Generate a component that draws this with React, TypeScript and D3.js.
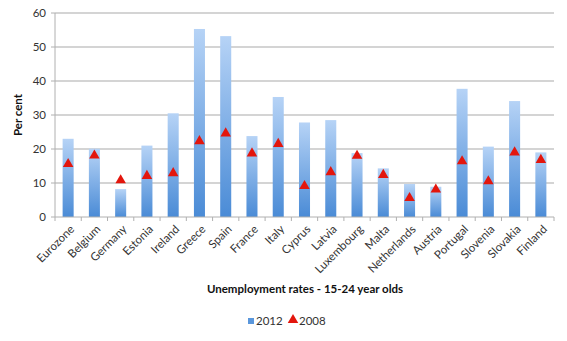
import React from "react";
import * as d3 from "d3";

const categories = ["Eurozone","Belgium","Germany","Estonia","Ireland","Greece","Spain","France","Italy","Cyprus","Latvia","Luxembourg","Malta","Netherlands","Austria","Portugal","Slovenia","Slovakia","Finland"];
const values2012 = [23.0,20.1,8.2,21.0,30.5,55.3,53.2,23.8,35.3,27.8,28.5,18.8,14.3,9.7,8.9,37.7,20.7,34.1,19.0];
const values2008 = [15.6,18.1,10.8,12.1,12.9,22.3,24.6,18.7,21.5,9.1,13.2,18.0,12.4,5.6,8.1,16.4,10.5,19.0,16.8];
const yTicks = [0,10,20,30,40,50,60];

const W = 567, H = 341;
const left = 55, right = 554, top = 13, bottom = 217;
const font = "Lato, 'Open Sans', sans-serif";

export default function App() {
  const x = d3.scaleBand<string>().domain(categories).range([left, right]).paddingInner(0.58).paddingOuter(0.29);
  const xb = d3.scaleBand<string>().domain(categories).range([left, right]).padding(0);
  const y = d3.scaleLinear().domain([0, 60]).range([bottom, top]);
  const tri = d3.symbol().type(d3.symbolTriangle).size(48)();
  return (
    <svg width={W} height={H} style={{ position: "absolute", left: 0, top: 0, background: "#fff" }}>
      <defs>
        <linearGradient id="barGrad" x1="0" y1="0" x2="0" y2="1">
          <stop offset="0" stopColor="#b6d3f6" />
          <stop offset="1" stopColor="#4a8bd6" />
        </linearGradient>
      </defs>
      {yTicks.map(t => (
        <g key={t}>
          {t > 0 && <line x1={left} x2={right} y1={y(t)} y2={y(t)} stroke="#c6c6c6" strokeWidth={1.3} />}
          <line x1={left - 4} x2={left} y1={y(t)} y2={y(t)} stroke="#b0b0b0" strokeWidth={1} />
          <text x={left - 9} y={y(t)} dy="0.35em" textAnchor="end" fontFamily={font} fontSize={11.5} fill="#333">{t}</text>
        </g>
      ))}
      <line x1={left} x2={left} y1={top} y2={bottom} stroke="#b0b0b0" strokeWidth={1} />
      {categories.map((c, i) => (
        <rect key={c} x={x(c)} y={y(values2012[i])} width={x.bandwidth()} height={bottom - y(values2012[i])} fill="url(#barGrad)" />
      ))}
      <line x1={left} x2={right} y1={bottom} y2={bottom} stroke="#b0b0b0" strokeWidth={1} />
      {categories.map((c, i) => (
        <line key={"t" + c} x1={(xb(c) as number)} x2={(xb(c) as number)} y1={bottom} y2={bottom + 4} stroke="#b0b0b0" strokeWidth={1} />
      ))}
      <line x1={right} x2={right} y1={bottom} y2={bottom + 4} stroke="#b0b0b0" strokeWidth={1} />
      {categories.map((c, i) => (
        <path key={"m" + c} d={tri as string} transform={`translate(${(x(c) as number) + x.bandwidth() / 2},${y(values2008[i])})`} fill="#e3160d" />
      ))}
      {categories.map((c) => {
        const cx = (x(c) as number) + x.bandwidth() / 2 + 4;
        return (
          <text key={"l" + c} transform={`translate(${cx},${bottom + 10}) rotate(-45)`} textAnchor="end" dy="0.35em" fontFamily={font} fontSize={11.5} fill="#333">{c}</text>
        );
      })}
      <text transform={`translate(22,${(top + bottom) / 2}) rotate(-90)`} textAnchor="middle" fontFamily={font} fontWeight="bold" fontSize={11.5} fill="#111">Per cent</text>
      <text x={305} y={293} textAnchor="middle" fontFamily={font} fontWeight="bold" fontSize={11.5} fill="#111">Unemployment rates - 15-24 year olds</text>
      <rect x={248} y={318} width={6} height={6} fill="#5a97dc" />
      <text x={256} y={321} dy="0.35em" fontFamily={font} fontSize={11.5} fill="#333">2012</text>
      <path d={tri as string} transform="translate(293,320)" fill="#e3160d" />
      <text x={299} y={321} dy="0.35em" fontFamily={font} fontSize={11.5} fill="#333">2008</text>
    </svg>
  );
}
